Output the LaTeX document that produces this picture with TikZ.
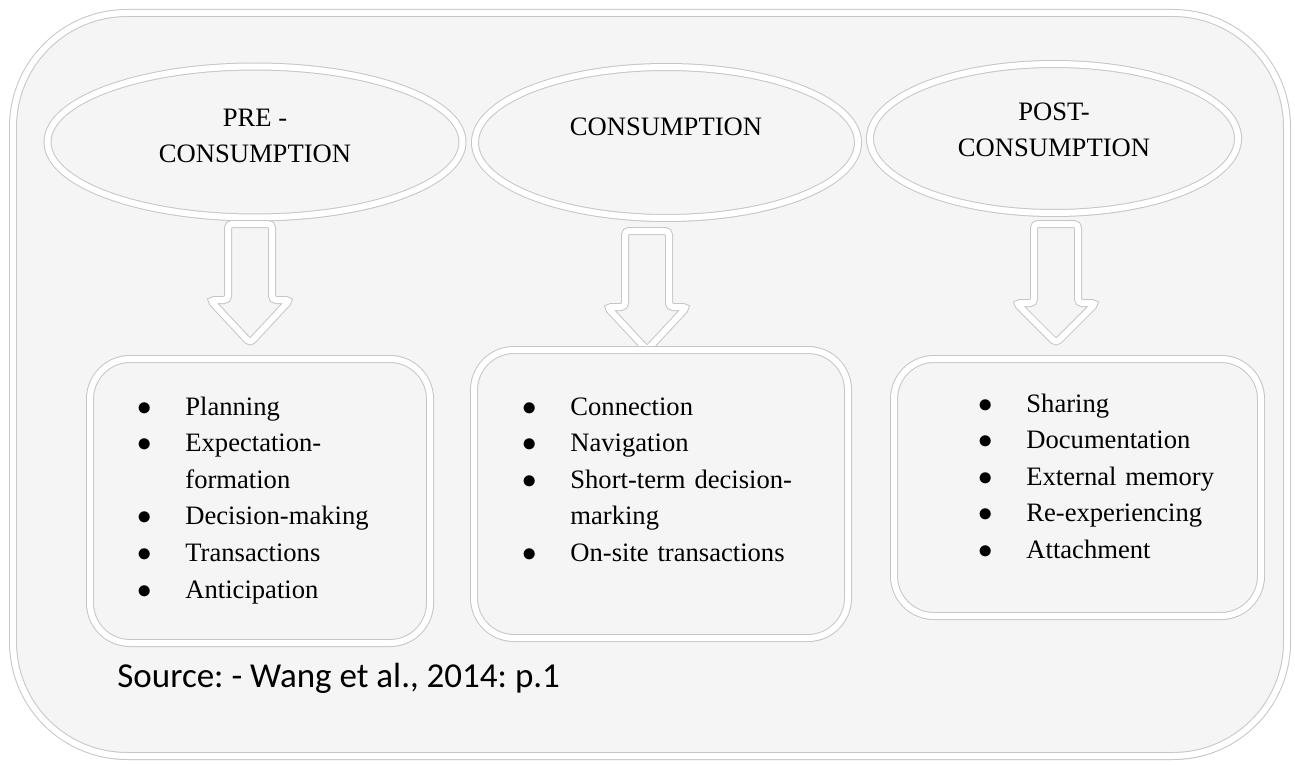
\documentclass[tikz,border=0pt]{standalone}
\usepackage{fontspec}
\setmainfont{Liberation Serif}
\newfontfamily\srcfont{Carlito}
\usepackage{tikz}
\usetikzlibrary{shapes.geometric,shadows,positioning,calc}
\definecolor{panel}{HTML}{F5F5F5}
\newcommand{\itm}[1]{\makebox[24pt][l]{$\bullet$}#1}
\newcommand{\cont}[1]{\hspace*{24pt}#1}
\frenchspacing

\begin{document}
\begin{tikzpicture}[x=0.5pt,y=-0.5pt,
    bevel/.style={fill=panel, draw=gray!45, line width=0.5pt, double=white, double distance=3pt,
        drop shadow={opacity=0.35, shadow xshift=0.5pt, shadow yshift=-1.8pt}},
    stage/.style={bevel, ellipse, inner sep=0pt},
    listbox/.style={bevel, rectangle, rounded corners=20pt, inner sep=0pt},
    head/.style={align=center, font=\fontsize{13.3}{18}\selectfont},
    items/.style={align=left, text width=175pt, inner sep=0pt, anchor=base west, font=\fontsize{13.3}{18.3}\selectfont}]
            \useasboundingbox (0,0) rectangle (1295,765);
            \fill[white] (0,0) rectangle (1295,765);
            \node[listbox, rounded corners=57pt, minimum width=637pt, minimum height=371.5pt] (frame) at (650,384.5) {};

            \node[stage, minimum width=207.5pt, minimum height=75.5pt] (pre) at (255,142) {};
            \node[stage, minimum width=191.5pt, minimum height=75.5pt] (con) at (666.5,142.5) {};
            \node[stage, minimum width=184pt, minimum height=74.5pt] (post) at (1054,138.5) {};
            \node[head] (pretxt) at (255,136) {PRE -\\CONSUMPTION};
            \node[head] (contxt) at (666,127) {CONSUMPTION};
            \node[head] (posttxt) at (1054,130) {POST-\\CONSUMPTION};

            \foreach \cx/\ya/\yb/\yc in {250/224/300/343, 647/231/307/350, 1056/224/303/343}
                {
                \draw[bevel, rounded corners=2pt] ({\cx-22},\ya) -- ({\cx+22},\ya) -- ({\cx+22},\yb) -- ({\cx+40},\yb) -- (\cx,\yc) -- ({\cx-40},\yb) -- ({\cx-22},\yb) -- cycle;
                }

            \node[listbox, minimum width=170pt, minimum height=142pt] (prebox) at (260,501) {};
            \node[listbox, minimum width=187pt, minimum height=144pt] (conbox) at (661,494) {};
            \node[listbox, minimum width=183.5pt, minimum height=128.5pt] (postbox) at (1077.5,487.5) {};

            \node[items] (prelist) at (137,415) {\itm{Planning}\\\itm{Expectation-}\\\cont{formation}\\\itm{Decision-making}\\\itm{Transactions}\\\itm{Anticipation}};
            \node[items] (conlist) at (522,415) {\itm{Connection}\\\itm{Navigation}\\\itm{Short-term decision-}\\\cont{marking}\\\itm{On-site transactions}};
            \node[items] (postlist) at (978,412) {\itm{Sharing}\\\itm{Documentation}\\\itm{External memory}\\\itm{Re-experiencing}\\\itm{Attachment}};

            \node[anchor=base west, inner sep=0pt, font=\srcfont\fontsize{17.5}{20}\selectfont] (source) at (117,687) {Source: - Wang et al., 2014: p.1};
        \end{tikzpicture}
\end{document}
